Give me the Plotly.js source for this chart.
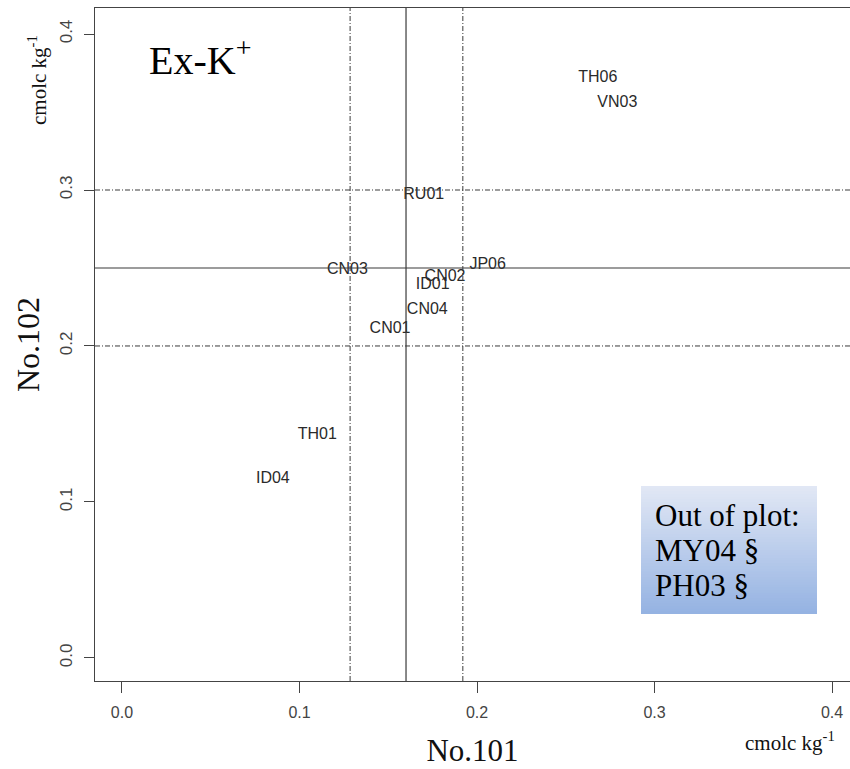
<!DOCTYPE html>
<html>
<head>
<meta charset="utf-8">
<script src="https://cdn.plot.ly/plotly-3.0.1.min.js"></script>
<style>html,body{margin:0;padding:0;background:#fff;}#chart{width:850px;height:769px;}</style>
</head>
<body>
<div id="chart"></div>
<script>
// Sample labels and their values (No.101 on x, No.102 on y), cmolc kg-1
var labs = ["TH06", "VN03", "RU01", "CN03", "CN02", "JP06", "ID01", "CN04", "CN01", "TH01", "ID04"];
var no101 = [0.268, 0.279, 0.170, 0.127, 0.182, 0.206, 0.175, 0.172, 0.151, 0.110, 0.085];
var no102 = [0.372, 0.356, 0.297, 0.249, 0.244, 0.252, 0.239, 0.223, 0.211, 0.143, 0.115];

// Reference lines: centre (solid) and limits (dash-dot)
var xCentre = 0.160;
var xLimits = [0.1285, 0.192];
var yCentre = 0.250;
var yLimits = [0.200, 0.300];

var tickVals = [0.0, 0.1, 0.2, 0.3, 0.4];
var tickText = ["0.0", "0.1", "0.2", "0.3", "0.4"];
var boxLines = ["Out of plot:", "MY04 §", "PH03 §"];

var lineCol = "#3a3a3a";
var shapes = [];
shapes.push({type: "line", xref: "x", yref: "paper", x0: xCentre, x1: xCentre, y0: 0, y1: 1,
  line: {color: lineCol, width: 1.2}});
xLimits.forEach(function (v) {
  shapes.push({type: "line", xref: "x", yref: "paper", x0: v, x1: v, y0: 0, y1: 1,
    line: {color: lineCol, width: 1, dash: "5px,2px,1px,2px"}});
});
shapes.push({type: "line", xref: "paper", yref: "y", x0: 0, x1: 1, y0: yCentre, y1: yCentre,
  line: {color: lineCol, width: 1.2}});
yLimits.forEach(function (v) {
  shapes.push({type: "line", xref: "paper", yref: "y", x0: 0, x1: 1, y0: v, y1: v,
    line: {color: lineCol, width: 1, dash: "5px,2px,1px,2px"}});
});

// Gradient box (pixel positions converted to paper coords)
var L = 95, T = 8, W = 755, H = 673;
function px(x) { return (x - L) / W; }
function py(y) { return (T + H - y) / H; }
var bx0 = 641, bx1 = 817, by0 = 486, by1 = 614;
var nSl = 48;
var c0 = [226, 232, 245], c1 = [148, 178, 226];
for (var i = 0; i < nSl; i++) {
  var t = (i + 0.5) / nSl;
  var c = c0.map(function (a, k) { return Math.round(a + (c1[k] - a) * t); });
  var ya = by0 + (by1 - by0) * i / nSl;
  var yb = by0 + (by1 - by0) * (i + 1) / nSl + 0.6;
  shapes.push({type: "rect", xref: "paper", yref: "paper", layer: "above",
    x0: px(bx0), x1: px(bx1), y0: py(Math.min(yb, by1)), y1: py(ya),
    line: {width: 0}, fillcolor: "rgb(" + c.join(",") + ")"});
}

var serif = "Liberation Serif, Times New Roman, serif";
var sans = "Liberation Sans, Arial, sans-serif";

var trace = {
  type: "scatter", mode: "text", x: no101, y: no102, text: labs,
  textposition: "middle center",
  textfont: {family: sans, size: 16, color: "#2a2a2a"},
  hoverinfo: "skip", showlegend: false, cliponaxis: false
};

var annotations = [
  {xref: "paper", yref: "paper", x: px(147), y: py(58), xanchor: "left", yanchor: "middle",
    text: "Ex-K<sup>+</sup>", showarrow: false, font: {family: serif, size: 40, color: "#000"}},
  {xref: "paper", yref: "paper", x: px(38), y: py(80), xanchor: "center", yanchor: "middle",
    text: "cmolc kg<sup>-1</sup>", textangle: -90, showarrow: false,
    font: {family: serif, size: 21, color: "#111"}},
  {xref: "paper", yref: "paper", x: px(790), y: py(742), xanchor: "center", yanchor: "middle",
    text: "cmolc kg<sup>-1</sup>", showarrow: false,
    font: {family: serif, size: 21, color: "#111"}}
];
boxLines.forEach(function (s, k) {
  annotations.push({xref: "paper", yref: "paper", x: px(653), y: py(515 + 35 * k),
    xanchor: "left", yanchor: "middle", align: "left", text: s, showarrow: false,
    font: {family: serif, size: 31, color: "#000"}});
});

var layout = {
  width: 850, height: 769,
  margin: {l: L, r: 0, t: T, b: 769 - T - H},
  paper_bgcolor: "#fff", plot_bgcolor: "#fff",
  showlegend: false,
  xaxis: {
    range: [-0.0152, 0.4101], tickvals: tickVals, ticktext: tickText,
    showgrid: false, zeroline: false, showline: true, mirror: true,
    linecolor: "#444", linewidth: 1.2,
    ticks: "outside", ticklen: 11, tickcolor: "#444", tickwidth: 1,
    ticklabelstandoff: 6,
    tickfont: {family: sans, size: 16, color: "#444"},
    title: {text: "No.101", font: {family: serif, size: 31, color: "#111"}, standoff: 18}
  },
  yaxis: {
    range: [-0.0148, 0.4167], tickvals: tickVals, ticktext: tickText,
    showgrid: false, zeroline: false, showline: true, mirror: false,
    linecolor: "#444", linewidth: 1.2,
    ticks: "outside", ticklen: 10, tickcolor: "#444", tickwidth: 1,
    tickangle: -90, ticklabelstandoff: 5,
    tickfont: {family: sans, size: 17, color: "#444"},
    title: {text: "No.102", font: {family: serif, size: 32, color: "#111"}, standoff: 7}
  },
  shapes: shapes,
  annotations: annotations
};

Plotly.newPlot("chart", [trace], layout, {displayModeBar: false, staticPlot: true});
</script>
</body>
</html>
